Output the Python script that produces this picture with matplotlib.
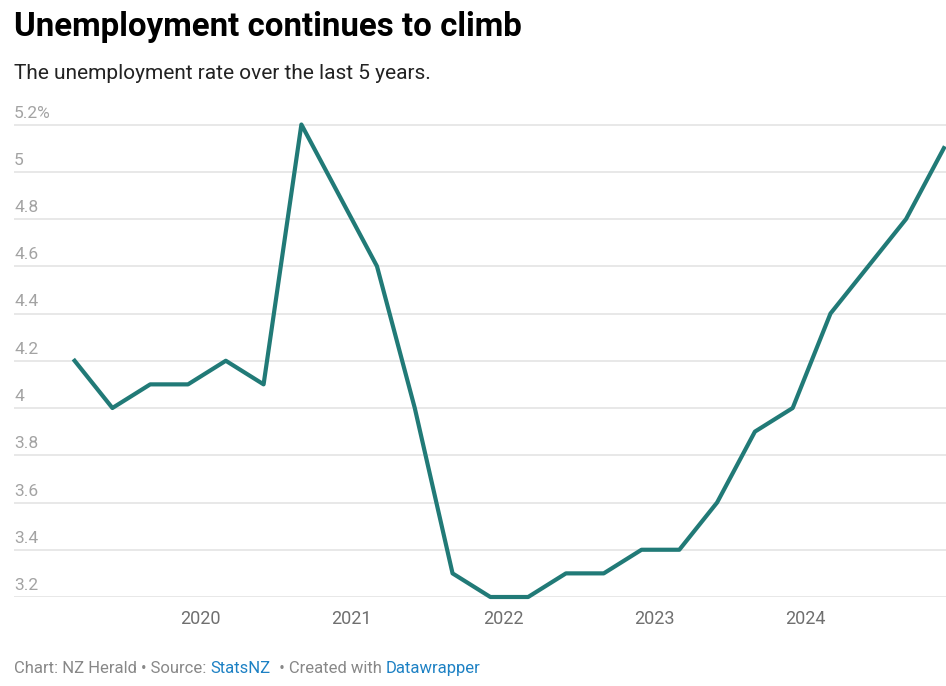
import matplotlib.pyplot as plt

plt.rcParams['font.family'] = ['Roboto', 'DejaVu Sans']

# quarterly unemployment rate, Mar 2019 .. Dec 2024
quarters = [2019 + (m - 1) / 12 + y for y in range(6) for m in (3, 6, 9, 12)]
rate = [4.2, 4.0, 4.1, 4.1,
        4.2, 4.1, 5.2, 4.9,
        4.6, 4.0, 3.3, 3.2,
        3.2, 3.3, 3.3, 3.4,
        3.4, 3.6, 3.9, 4.0,
        4.4, 4.6, 4.8, 5.1]
y_ticks = [3.2, 3.4, 3.6, 3.8, 4.0, 4.2, 4.4, 4.6, 4.8, 5.0, 5.2]
y_labels = ['3.2', '3.4', '3.6', '3.8', '4', '4.2', '4.4', '4.6', '4.8', '5', '5.2%']
x_ticks = [2020, 2021, 2022, 2023, 2024]

W, H = 946, 686
fig = plt.figure(figsize=(W / 100, H / 100), dpi=100)
fig.patch.set_facecolor('white')

ax = fig.add_axes([14 / W, 1 - 597 / H, 932 / W, (597 - 124.5) / H])
ax.set_xlim(2020 - 187 / 151.5, 2020 + 747 / 151.5)
ax.set_ylim(3.2, 5.2)

for v, lab in zip(y_ticks, y_labels):
    ax.axhline(v, color='#e1e1e1', lw=1.1, zorder=1)
    ax.annotate(lab, xy=(0, v), xycoords=('axes fraction', 'data'),
                xytext=(0, 4), textcoords='offset pixels', ha='left', va='bottom',
                fontsize=12.5, color='#a3a3a3')

ax.plot(quarters, rate, color='#217a77', lw=3, clip_on=False, zorder=3)

ax.set_yticks([])
ax.set_xticks(x_ticks)
ax.set_xticklabels([str(x) for x in x_ticks], fontsize=13, color='#6f6f6f')
ax.tick_params(axis='x', length=0, pad=9)
for s in ax.spines.values():
    s.set_visible(False)

fig.text(14 / W, 1 - 36 / H, 'Unemployment continues to climb', fontsize=23.8,
         fontweight='bold', color='#000000', ha='left', va='baseline')
fig.text(14 / W, 1 - 79 / H, 'The unemployment rate over the last 5 years.',
         fontsize=15, color='#222222', ha='left', va='baseline')

# footer with link-coloured pieces
parts = [('Chart: NZ Herald • Source: ', '#888888'), ('StatsNZ', '#1d81c4'),
         ('  • Created with ', '#888888'), ('Datawrapper', '#1d81c4')]
prev = fig.text(14 / W, 1 - 673 / H, parts[0][0], fontsize=12, color=parts[0][1],
                ha='left', va='baseline')
for txt, col in parts[1:]:
    prev = fig.add_artist(plt.Annotation(txt, xy=(1, 0), xycoords=prev, xytext=(0, 0),
                                         textcoords='offset pixels', fontsize=12,
                                         color=col, ha='left', va='bottom'))

fig.savefig('out.png', dpi=100, facecolor='white')
